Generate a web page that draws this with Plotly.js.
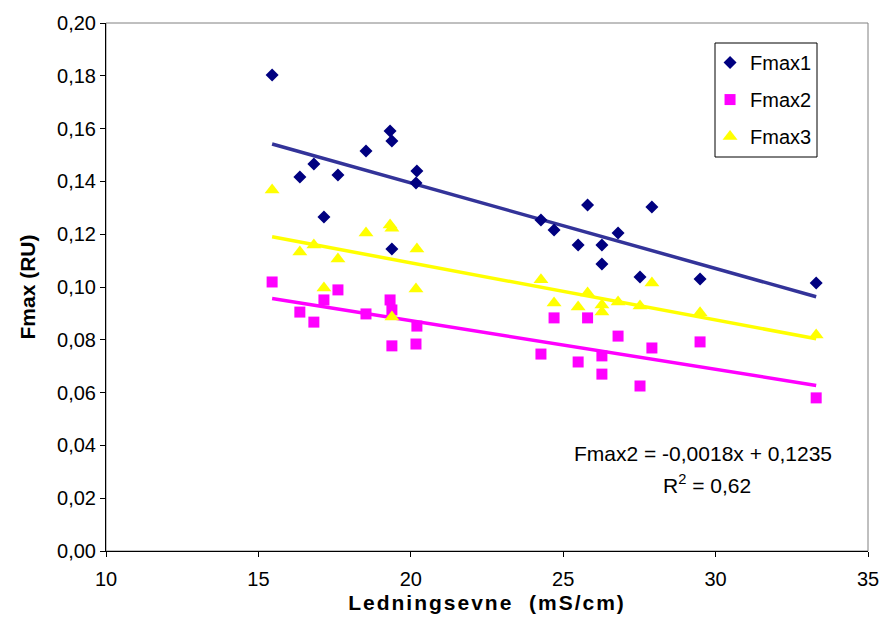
<!DOCTYPE html>
<html>
<head>
<meta charset="utf-8">
<script src="https://cdn.plot.ly/plotly-3.0.1.min.js"></script>
<style>html,body{margin:0;padding:0;background:#fff;}#chart{width:881px;height:626px;}</style>
</head>
<body>
<div id="chart"></div>
<script>
// Conductivity (mS/cm), shared x values
const ledningsevne = [15.45, 16.36, 16.82, 17.15, 17.61, 18.53, 19.32, 19.38, 19.38, 20.20, 20.17,
  24.27, 24.70, 25.49, 25.80, 26.27, 26.27, 26.80, 27.52, 27.91, 29.49, 33.30];
const fmax1 = [0.1803, 0.1417, 0.1466, 0.1265, 0.1424, 0.1515, 0.1591, 0.1553, 0.1144, 0.1439, 0.1394,
  0.1254, 0.1216, 0.1159, 0.1311, 0.1159, 0.1087, 0.1205, 0.1038, 0.1303, 0.1030, 0.1015];
const fmax2 = [0.1019, 0.0905, 0.0867, 0.0951, 0.0989, 0.0898, 0.0951, 0.0913, 0.0777, 0.0852, 0.0784,
  0.0746, 0.0883, 0.0716, 0.0883, 0.0739, 0.0670, 0.0814, 0.0625, 0.0769, 0.0792, 0.0580];
const fmax3 = [0.1367, 0.1133, 0.1159, 0.0996, 0.1106, 0.1205, 0.1235, 0.1223, 0.0886, 0.1144, 0.0992,
  0.1027, 0.0939, 0.0924, 0.0977, 0.0932, 0.0905, 0.0943, 0.0928, 0.1015, 0.0902, 0.0818];
const seriesNames = ['Fmax1', 'Fmax2', 'Fmax3'];
const equationText = 'Fmax2 = -0,0018x + 0,1235';
const r2Text = 'R<sup>2</sup> = 0,62';
const xTitle = 'Ledningsevne  (mS/cm)';
const yTitle = 'Fmax (RU)';

function fit(xs, ys) {
  const n = xs.length;
  let sx = 0, sy = 0, sxx = 0, sxy = 0;
  for (let i = 0; i < n; i++) { sx += xs[i]; sy += ys[i]; sxx += xs[i]*xs[i]; sxy += xs[i]*ys[i]; }
  const b = (n*sxy - sx*sy) / (n*sxx - sx*sx);
  const a = (sy - b*sx) / n;
  const x0 = Math.min(...xs), x1 = Math.max(...xs);
  return {x: [x0, x1], y: [a + b*x0, a + b*x1]};
}

const font = 'Liberation Sans, Arial, sans-serif';
const markerStyles = [
  {symbol: 'diamond', color: '#000080', size: 10},
  {symbol: 'square', color: '#FF00FF', size: 11},
  {symbol: 'triangle-up', color: '#FFFF00', size: 13}
];
const lineColors = ['#333399', '#FF00FF', '#FFFF00'];
const ys = [fmax1, fmax2, fmax3];

const traces = [];
ys.forEach((y, i) => {
  const f = fit(ledningsevne, y);
  traces.push({x: f.x, y: f.y, mode: 'lines', line: {color: lineColors[i], width: 3.5},
    showlegend: false, hoverinfo: 'skip'});
});
ys.forEach((y, i) => {
  traces.push({x: ledningsevne, y: y, mode: 'markers', name: seriesNames[i], legendgroup: 'g' + i,
    marker: {symbol: markerStyles[i].symbol, color: markerStyles[i].color, size: markerStyles[i].size,
      line: {width: 0}}});
});

const layout = {
  width: 881, height: 626,
  margin: {l: 106, r: 13, t: 23, b: 75, pad: 0},
  paper_bgcolor: '#fff', plot_bgcolor: '#fff',
  separators: ', ',
  font: {family: font, size: 20, color: '#000'},
  showlegend: true,
  legend: {x: 0.7927, y: 0.962, xanchor: 'left', yanchor: 'top', bgcolor: 'rgba(0,0,0,0)',
    borderwidth: 0, font: {family: font, size: 20, color: '#000'},
    traceorder: 'grouped', itemwidth: 30, tracegroupgap: 8},
  xaxis: {range: [10, 35], dtick: 5, tick0: 10, showgrid: false, zeroline: false,
    showline: true, linecolor: '#000', linewidth: 1, ticks: 'outside', ticklen: 5, tickcolor: '#000',
    tickfont: {family: font, size: 20}, ticklabelstandoff: 5,
    title: {text: '<span style="letter-spacing:2px">' + xTitle + '</span>',
      font: {family: font, size: 21, weight: 'bold'}, standoff: 6}},
  yaxis: {range: [0, 0.2], dtick: 0.02, tick0: 0, tickformat: '.2f', showgrid: false, zeroline: false,
    showline: true, linecolor: '#000', linewidth: 1, ticks: 'outside', ticklen: 5, tickcolor: '#000',
    tickfont: {family: font, size: 20},
    title: {text: yTitle, font: {family: font, size: 21, weight: 'bold'}, standoff: 15}},
  shapes: [
    {type: 'rect', xref: 'paper', yref: 'paper', x0: 0, x1: 1, y0: 0, y1: 1,
      line: {color: '#808080', width: 1}, layer: 'below'},
    {type: 'rect', xref: 'paper', yref: 'paper',
      x0: (715 - 106) / 762, x1: (817 - 106) / 762, y0: (551 - 157) / 528, y1: (551 - 43) / 528,
      line: {color: '#000', width: 1}, fillcolor: '#fff', layer: 'below'}
  ],
  annotations: [
    {xref: 'paper', yref: 'paper', x: 0.783, y: 0.1856, text: equationText, showarrow: false,
      xanchor: 'center', yanchor: 'middle', font: {family: font, size: 21}},
    {xref: 'paper', yref: 'paper', x: 0.789, y: 0.127, text: r2Text, showarrow: false,
      xanchor: 'center', yanchor: 'middle', font: {family: font, size: 21}}
  ]
};

Plotly.newPlot('chart', traces, layout, {displayModeBar: false, staticPlot: true});
</script>
</body>
</html>
